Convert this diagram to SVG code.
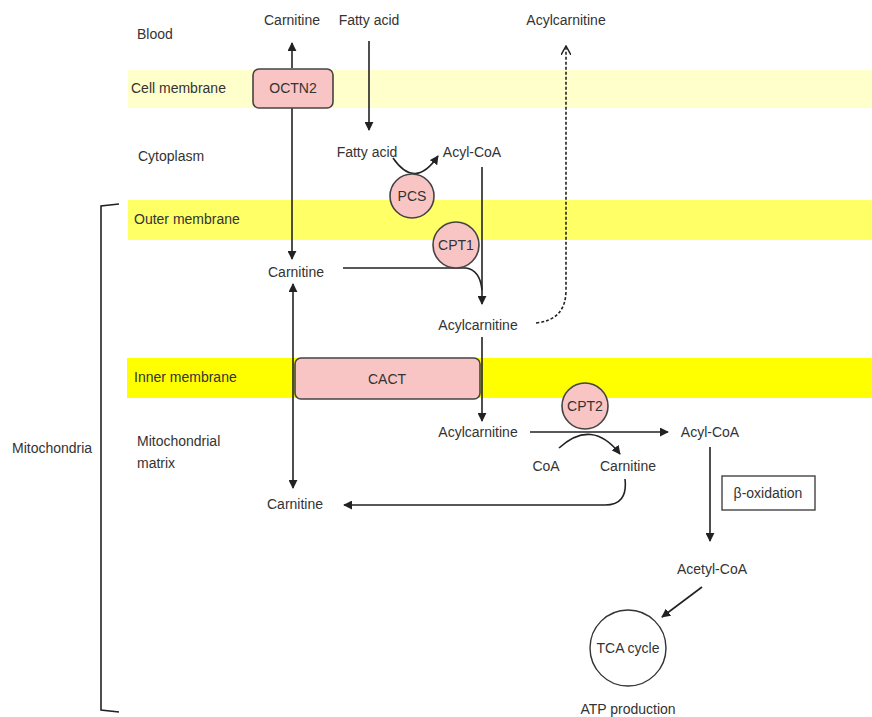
<svg xmlns="http://www.w3.org/2000/svg" width="872" height="717" viewBox="0 0 872 717">
<style>
text{font-family:"Liberation Sans",Arial,sans-serif;font-size:14px;fill:#333}
.c{text-anchor:middle}
.ln{fill:none;stroke:#222;stroke-width:1.6}
.enz{fill:#f9c4c4;stroke:#444;stroke-width:1.6}
</style>
<defs>
<marker id="ah" viewBox="0 0 10 10" refX="9" refY="5" markerWidth="9" markerHeight="9" markerUnits="userSpaceOnUse" orient="auto-start-reverse"><path d="M0,0 L10,5 L0,10 z" fill="#222"/></marker>
<marker id="oa" viewBox="0 0 10 10" refX="9" refY="5" markerWidth="10" markerHeight="10" markerUnits="userSpaceOnUse" orient="auto"><path d="M0,0 L9,5 L0,10" fill="none" stroke="#222" stroke-width="1.5"/></marker>
</defs>
<rect width="872" height="717" fill="#fff"/>
<g id="bands">
<rect x="128" y="70" width="744" height="38" fill="#ffffcc"/>
<rect x="128" y="200" width="744" height="40" fill="#ffff66"/>
<rect x="127" y="358" width="745" height="40" fill="#ffff00"/>
</g>
<g id="labels">
<text x="137" y="39">Blood</text>
<text x="131" y="93">Cell membrane</text>
<text x="138" y="161">Cytoplasm</text>
<text x="134" y="224">Outer membrane</text>
<text x="134" y="382">Inner membrane</text>
<text x="137" y="446">Mitochondrial</text>
<text x="137" y="468">matrix</text>
<text x="12" y="453">Mitochondria</text>
<path d="M119,204 L101,206 L101,710 L119,712" class="ln" stroke-width="1.4"/>
</g>
<g id="connectors">
<line x1="292" y1="68" x2="292" y2="43" class="ln" marker-end="url(#ah)"/>
<line x1="292" y1="108" x2="292" y2="259" class="ln" marker-end="url(#ah)"/>
<line x1="369" y1="41" x2="369" y2="130" class="ln" marker-end="url(#ah)"/>
<path d="M393,158 Q415,190 438,156" class="ln" marker-end="url(#ah)"/>
<line x1="482" y1="167" x2="482" y2="304" class="ln" marker-end="url(#ah)"/>
<path d="M343,268 L466,268 Q480,270 482,290" class="ln"/>
<path d="M536,323 Q566,320 566,290 L566,46" class="ln" stroke-dasharray="3,2" marker-end="url(#oa)"/>
<line x1="482" y1="337" x2="482" y2="421" class="ln" marker-end="url(#ah)"/>
<line x1="293" y1="284" x2="293" y2="488" class="ln" marker-start="url(#ah)" marker-end="url(#ah)"/>
<line x1="530" y1="432" x2="668" y2="432" class="ln" marker-end="url(#ah)"/>
<path d="M559,448 Q592,418 620,454" class="ln" marker-end="url(#ah)"/>
<path d="M625,479 Q628,505 605,505 L344,505" class="ln" marker-end="url(#ah)"/>
<line x1="710" y1="447" x2="710" y2="541" class="ln" marker-end="url(#ah)"/>
<line x1="702" y1="587" x2="662" y2="617" class="ln" marker-end="url(#ah)"/>
</g>
<g id="octn2"><rect x="253" y="69" width="80" height="39" rx="6" class="enz"/><text x="293" y="93" class="c">OCTN2</text></g>
<g id="carnitine-blood"><text x="292" y="25" class="c">Carnitine</text></g>
<g id="fattyacid-blood"><text x="369" y="25" class="c">Fatty acid</text></g>
<g id="acylcarnitine-blood"><text x="566" y="25" class="c">Acylcarnitine</text></g>
<g id="fattyacid-cyto"><text x="367" y="157" class="c">Fatty acid</text></g>
<g id="acylcoa-cyto"><text x="472" y="157" class="c">Acyl-CoA</text></g>
<g id="pcs"><circle cx="412" cy="196" r="22" class="enz"/><text x="412" y="201" class="c">PCS</text></g>
<g id="cpt1"><circle cx="456" cy="245" r="23" class="enz"/><text x="456" y="250" class="c">CPT1</text></g>
<g id="carnitine-ims"><text x="296" y="277" class="c">Carnitine</text></g>
<g id="acylcarnitine-ims"><text x="478" y="330" class="c">Acylcarnitine</text></g>
<g id="cact"><rect x="295" y="358" width="185" height="41" rx="6" class="enz"/><text x="387" y="384" class="c">CACT</text></g>
<g id="acylcarnitine-matrix"><text x="478" y="437" class="c">Acylcarnitine</text></g>
<g id="cpt2"><circle cx="585" cy="406" r="23" class="enz"/><text x="585" y="411" class="c">CPT2</text></g>
<g id="acylcoa-matrix"><text x="710" y="437" class="c">Acyl-CoA</text></g>
<g id="coa"><text x="546" y="471" class="c">CoA</text></g>
<g id="carnitine-matrix2"><text x="628" y="471" class="c">Carnitine</text></g>
<g id="carnitine-matrix"><text x="295" y="509" class="c">Carnitine</text></g>
<g id="beta-ox"><rect x="722" y="476" width="93" height="34" fill="#fff" stroke="#444" stroke-width="1.4"/><text x="768" y="498" class="c">β-oxidation</text></g>
<g id="acetylcoa"><text x="712" y="574" class="c">Acetyl-CoA</text></g>
<g id="tca"><circle cx="628" cy="648" r="38" fill="#fff" stroke="#333" stroke-width="1.4"/><text x="628" y="653" class="c">TCA cycle</text></g>
<g id="atp"><text x="628" y="714" class="c">ATP production</text></g>
</svg>
